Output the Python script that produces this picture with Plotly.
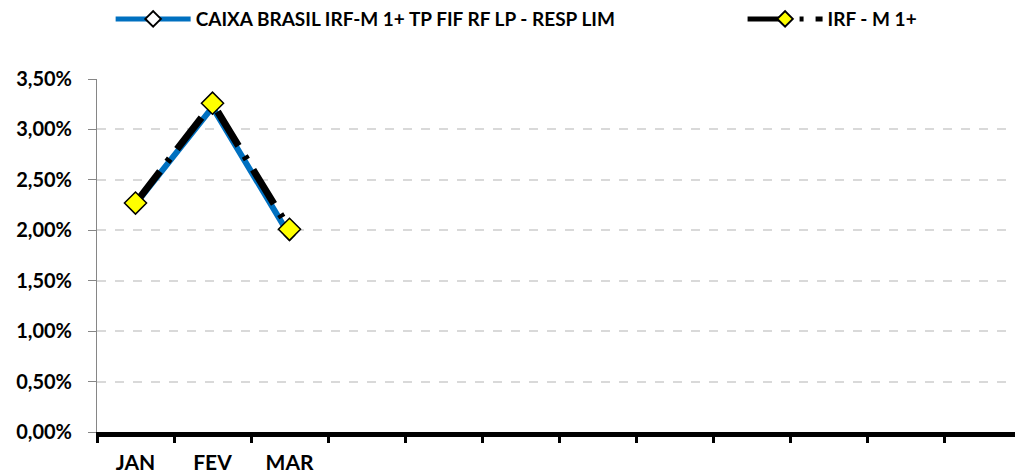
import plotly.graph_objects as go

months = ["JAN", "FEV", "MAR", "ABR", "MAI", "JUN", "JUL", "AGO", "SET", "OUT", "NOV", "DEZ"]
shown_labels = ["JAN", "FEV", "MAR"]
caixa = [0.0226, 0.0322, 0.0195]
irfm = [0.0227, 0.0326, 0.0201]

font_name = "Lato, sans-serif"

x_idx = list(range(len(caixa)))

fig = go.Figure()

fig.add_trace(go.Scatter(
    x=x_idx, y=caixa, mode="lines+markers",
    name="CAIXA BRASIL IRF-M 1+ TP FIF RF LP - RESP LIM",
    line=dict(color="#0070C0", width=6),
    marker=dict(symbol="diamond", size=8, color="white", line=dict(color="black", width=1.2)),
    legend="legend",
))

fig.add_trace(go.Scatter(
    x=x_idx, y=irfm, mode="lines+markers",
    name="IRF - M 1+",
    line=dict(color="black", width=7, dash="40px,12px,4px,12px"),
    marker=dict(symbol="diamond", size=17, color="#FFFF00", line=dict(color="black", width=1.5)),
    legend="legend2",
))

legend_common = dict(
    orientation="h", xref="container", yref="container", y=0.96,
    xanchor="left", yanchor="middle", itemwidth=75, itemsizing="constant",
    font=dict(family=font_name, size=19, color="black", weight="bold"),
    bgcolor="rgba(0,0,0,0)",
)

fig.update_layout(
    width=1015, height=476,
    margin=dict(l=97, r=0, t=79, b=44, autoexpand=False),
    plot_bgcolor="white", paper_bgcolor="white",
    separators=",.",
    font=dict(family=font_name, size=15, color="black"),
    showlegend=True,
    legend=dict(x=0.109, **legend_common),
    legend2=dict(x=0.7316, **legend_common),
)

fig.update_xaxes(
    range=[-0.5, -0.5 + (1015 - 97) / 77],
    tickmode="array", tickvals=list(range(len(shown_labels))), ticktext=shown_labels,
    ticks="", showgrid=False, zeroline=False, automargin=False,
    showline=True, linecolor="black", linewidth=5,
    tickfont=dict(family=font_name, size=21, weight="bold"),
    ticklabelstandoff=8,
    minor=dict(ticks="outside", tick0=-0.5, dtick=1, ticklen=6, tickwidth=3, tickcolor="black", showgrid=False),
)

fig.update_yaxes(
    range=[0, 0.035], dtick=0.005, tickformat=".2%",
    showgrid=True, gridcolor="#D9D9D9", gridwidth=1.5, griddash="dash",
    zeroline=False, automargin=False,
    showline=True, linecolor="#868686", linewidth=1,
    ticks="outside", ticklen=8, tickcolor="#868686",
    tickfont=dict(family=font_name, size=20, weight="bold"),
    ticklabelstandoff=12,
)

fig.write_html("out.html", config={"displayModeBar": False},
               post_script="document.body.style.margin='0';")
